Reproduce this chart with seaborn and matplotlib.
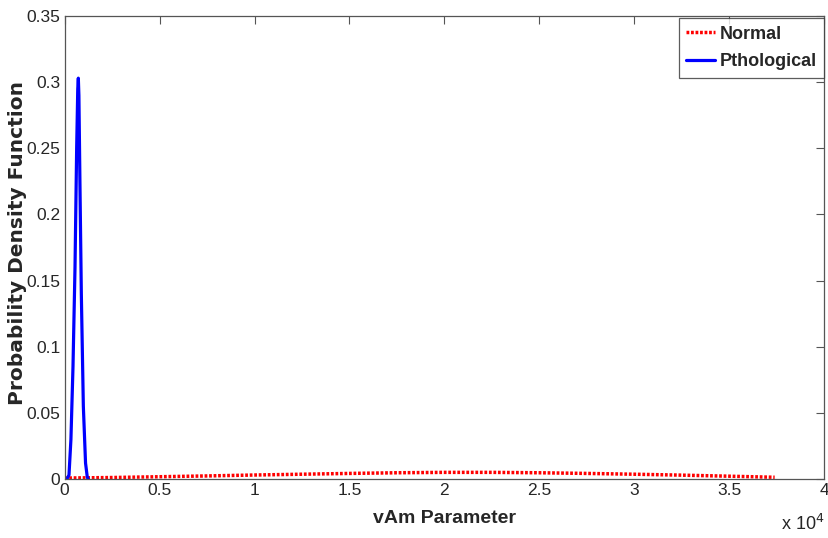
import matplotlib
matplotlib.use("Agg")
import matplotlib.pyplot as plt
import matplotlib.ticker as mticker
import seaborn as sns
import pandas as pd

# Pathological PDF (raw vAm units)
patho_x = [0, 120, 228, 330, 439, 545, 632, 690, 720, 750, 808, 878, 984, 1100, 1195, 1250]
patho_y = [0, 0, 0.003, 0.03, 0.085, 0.16, 0.25, 0.295, 0.303, 0.29, 0.22, 0.14, 0.055, 0.012, 0.001, 0]

# Normal PDF (raw vAm units)
normal_x = [0, 2500, 5000, 7500, 10000, 12500, 15000, 17500, 20000, 22500, 25000,
            27500, 30000, 32500, 35000, 37400]
normal_y = [0.0007, 0.0011, 0.0017, 0.0023, 0.003, 0.0036, 0.0042, 0.0047, 0.005, 0.005,
            0.0047, 0.0042, 0.0036, 0.0029, 0.0021, 0.0013]

sns.set_style("white")
plt.rcParams["font.family"] = ["Liberation Sans", "DejaVu Sans"]

df_n = pd.DataFrame({"x": normal_x, "y": normal_y})
df_p = pd.DataFrame({"x": patho_x, "y": patho_y})

fig = plt.figure(figsize=(8.29, 5.38), dpi=100)
ax = fig.add_axes([0.078, 0.1097, 0.916, 0.8606])

sns.lineplot(data=df_n, x="x", y="y", ax=ax, color="red", linestyle=(0, (0.8, 0.5)),
             linewidth=2.5, label="Normal")
sns.lineplot(data=df_p, x="x", y="y", ax=ax, color="blue", linestyle="-",
             linewidth=2.3, label="Pthological")

ax.set_xlim(0, 40000)
ax.set_ylim(0, 0.35)
ax.set_xticks([i * 5000 for i in range(9)])
ax.set_yticks([i * 0.05 for i in range(8)])
ax.xaxis.set_major_formatter(mticker.FuncFormatter(lambda v, p: f"{v / 1e4:g}"))
ax.yaxis.set_major_formatter(mticker.FuncFormatter(lambda v, p: f"{v:.2f}".rstrip("0").rstrip(".")))
ax.tick_params(direction="in", length=6, width=0.8, color="#555555", labelsize=12.5,
               top=True, right=True, pad=3)
for s in ax.spines.values():
    s.set_color("#555555")
    s.set_linewidth(0.9)

ax.set_xlabel("vAm Parameter", fontsize=14, fontweight="bold")
ax.xaxis.set_label_coords(0.5, -0.068)
ax.set_ylabel("Probability Density Function", fontsize=14.5, fontweight="bold",
              family="DejaVu Sans")
ax.yaxis.set_label_coords(-0.05, 0.51)
ax.text(1.0, -0.075, "x 10$^{4}$", transform=ax.transAxes, ha="right", va="top",
        fontsize=13)

leg = ax.legend(loc="upper right", bbox_to_anchor=(1.0, 0.995), frameon=True, fancybox=False,
                prop={"weight": "bold", "size": 13},
                handlelength=1.6, handletextpad=0.25, borderpad=0.4, labelspacing=0.6,
                borderaxespad=0)
leg.get_frame().set_edgecolor("#333333")
leg.get_frame().set_linewidth(0.9)

plt.savefig("out.png", dpi=100)
plt.close()
